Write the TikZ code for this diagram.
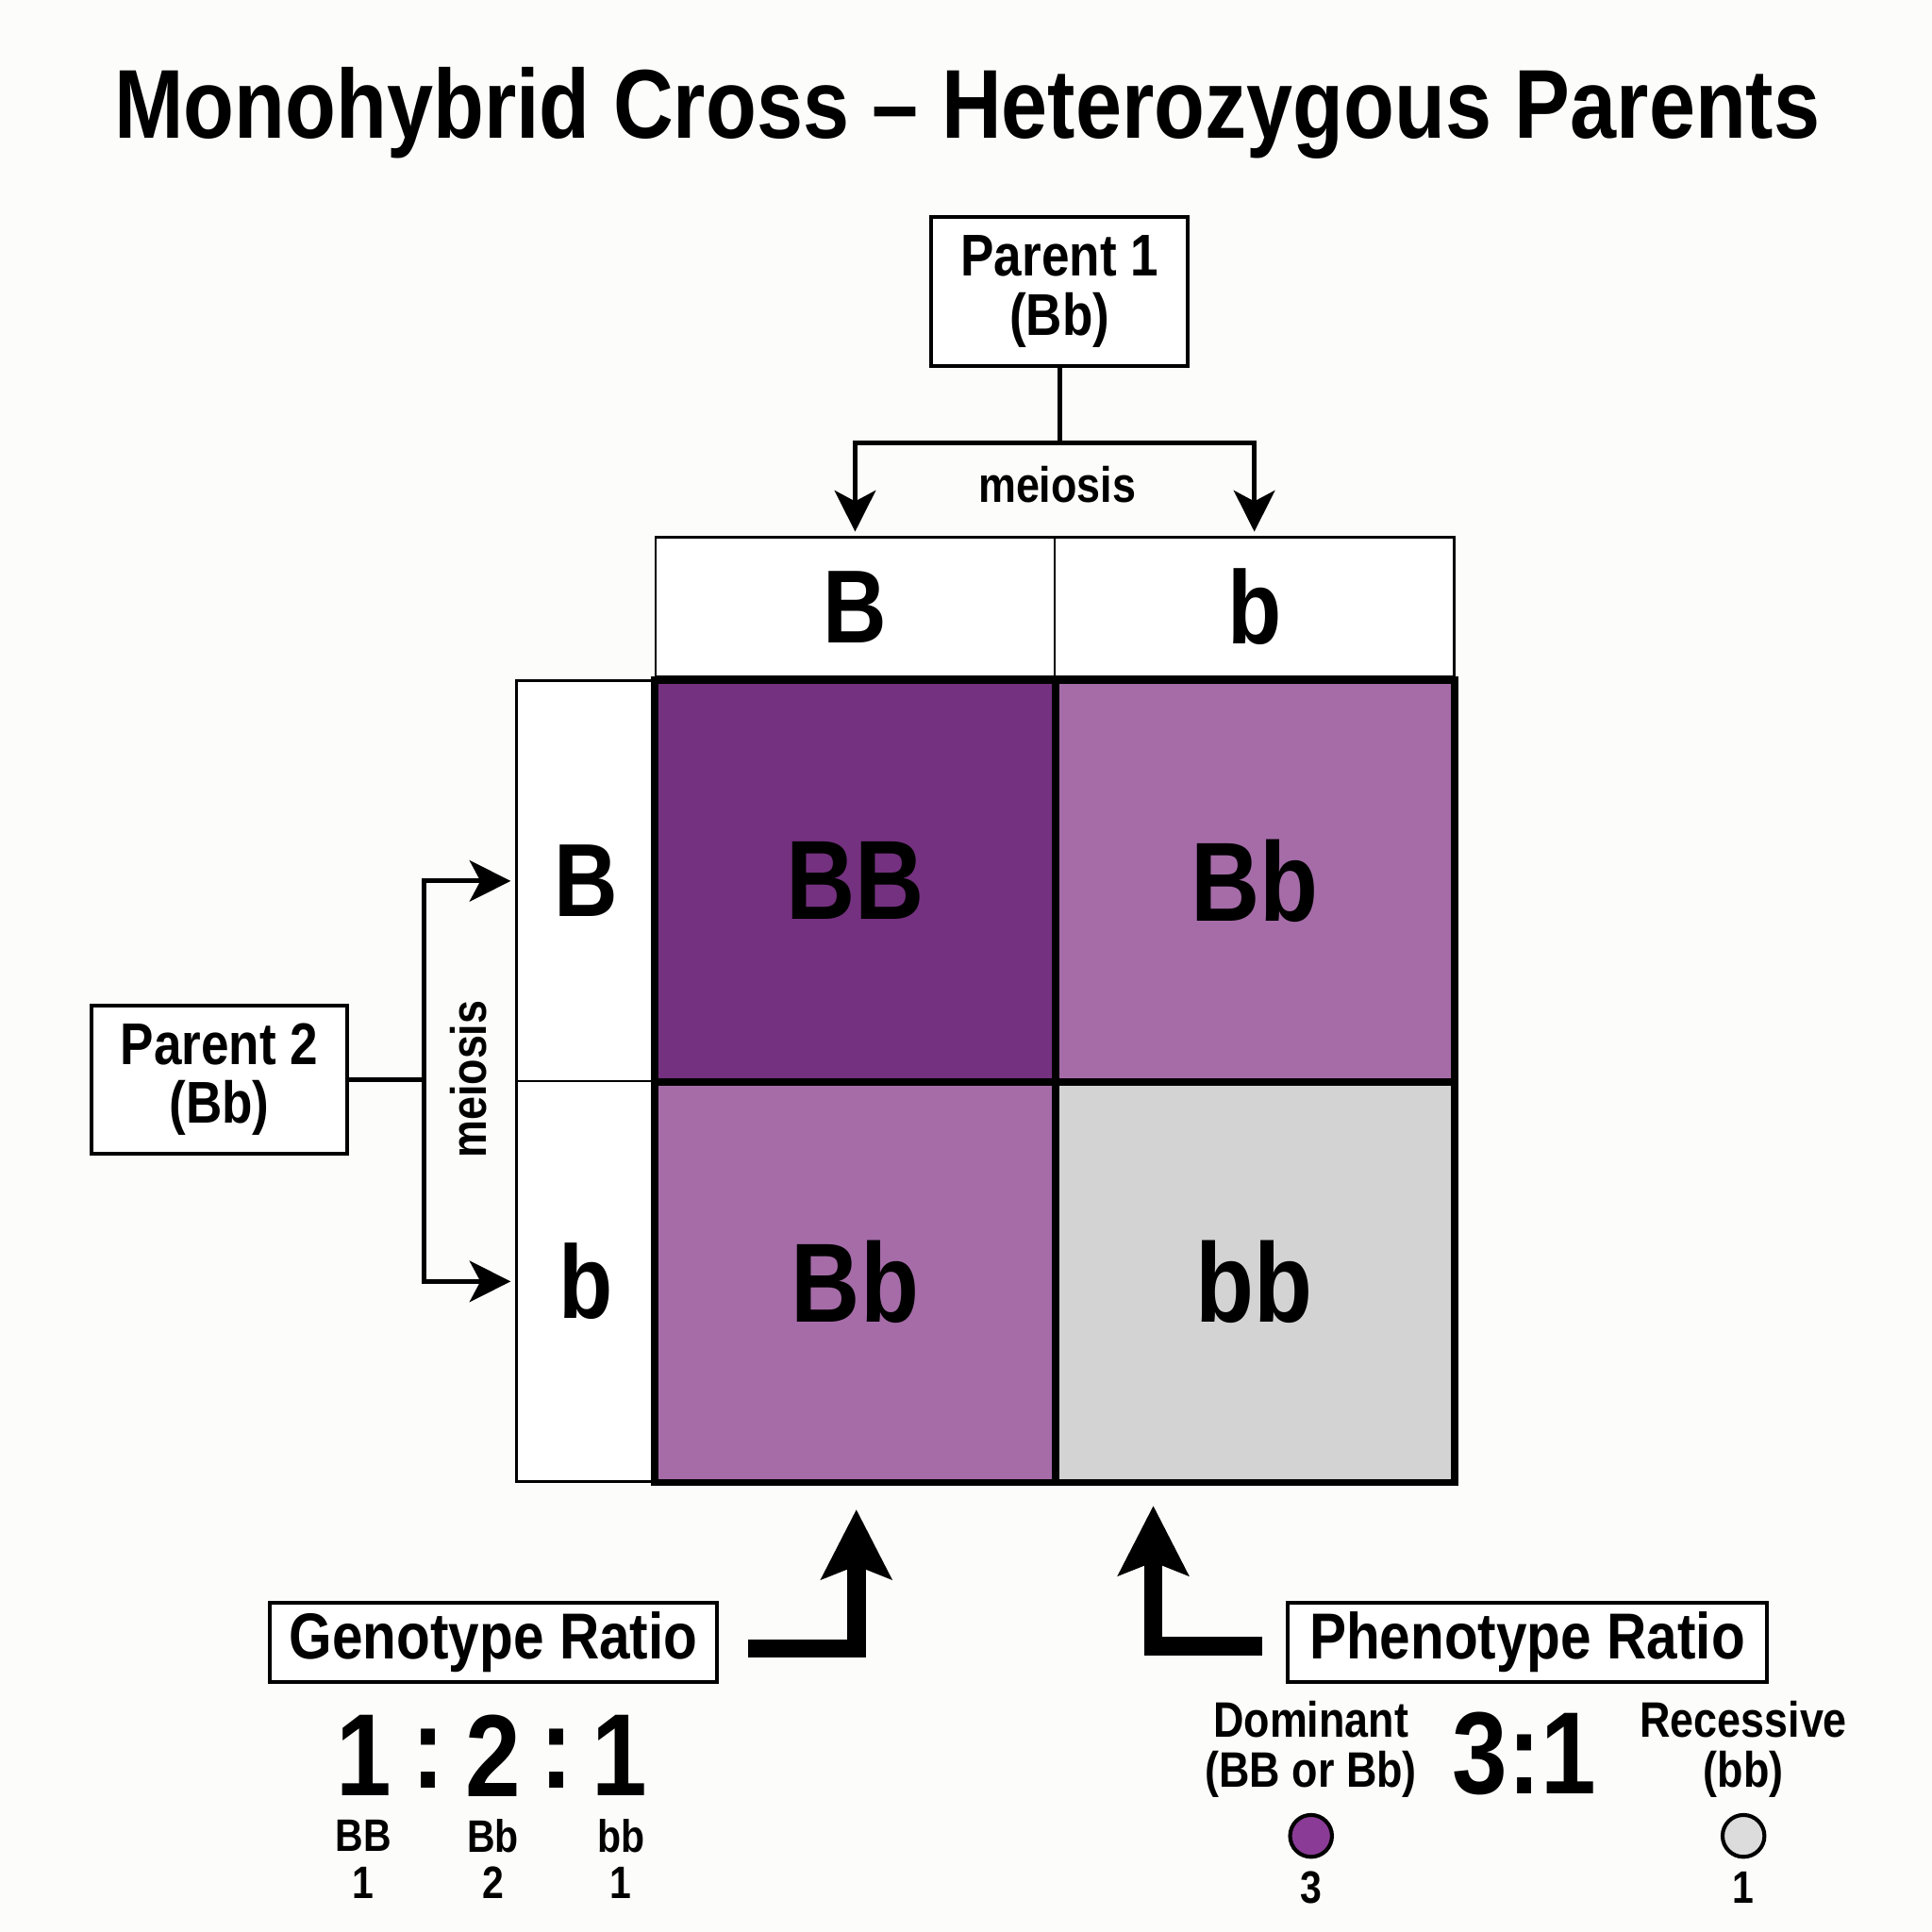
\documentclass[tikz,border=0pt]{standalone}
\usepackage{fontspec}
\setmainfont{Liberation Sans}[FakeStretch=0.85]
\usetikzlibrary{calc,positioning,arrows.meta}
\definecolor{bbdark}{HTML}{74317F}
\definecolor{bbmid}{HTML}{A56CA8}
\definecolor{bbgrey}{HTML}{D3D3D3}
\definecolor{domdot}{HTML}{8A3B96}
\definecolor{recdot}{HTML}{DCDCDC}
\definecolor{paper}{HTML}{FCFCFA}
\def\fs#1{\fontsize{#1}{#1}\selectfont\bfseries}
\tikzset{
	pbox/.style={draw, line width=0.3mm, fill=white, align=center, inner sep=0pt},
	hdr/.style={draw, line width=0.2mm, fill=white, inner sep=0pt, font=\fs{24}},
	cell/.style={minimum width=3.24cm, minimum height=3.25cm, inner sep=0pt, font=\fs{26}},
	meio/.style={line width=0.4mm, -{Stealth[length=9.5pt,width=9.5pt,inset=2.5pt]}},
	bigarr/.style={line width=4.3pt, -{Stealth[length=16pt,width=16pt,inset=3pt]}},
	dot/.style={circle, draw, line width=0.9pt, minimum size=0.34cm, inner sep=0pt}
}

\begin{document}
\begin{tikzpicture}
			%%%%% START %%%%%
			
			\fill[paper] (0, 0) rectangle (15.68, -15.68);
			\useasboundingbox (0, 0) rectangle (15.68, -15.68);
			
			\node[font=\fs{22.6}] (title) at (7.85, -0.92) {Monohybrid Cross -- Heterozygous Parents};
			
			\node[pbox, minimum width=2.08cm, minimum height=1.21cm, font=\fs{13.6}] (P1) at (8.60, -2.365) {Parent 1\\(Bb)};
			\node[pbox, minimum width=2.08cm, minimum height=1.20cm, font=\fs{13.6}] (P2) at (1.78, -8.76) {Parent 2\\(Bb)};
			
			\node[hdr, minimum width=3.24cm, minimum height=1.13cm] (hB) at (6.94, -4.925) {B};
			\node[hdr, minimum width=3.24cm, minimum height=1.13cm] (hb) at (10.18, -4.925) {b};
			\node[hdr, minimum width=1.13cm, minimum height=3.25cm] (vB) at (4.755, -7.15) {B};
			\node[hdr, minimum width=1.13cm, minimum height=3.25cm] (vb) at (4.755, -10.40) {b};
			
			\node[cell, fill=bbdark] (cBB) at (6.94, -7.15) {BB};
			\node[cell, fill=bbmid] (cBb) at (10.18, -7.15) {Bb};
			\node[cell, fill=bbmid] (cbB) at (6.94, -10.40) {Bb};
			\node[cell, fill=bbgrey] (cbb) at (10.18, -10.40) {bb};
			
			\draw[line width=1.7pt] (cBB.north west) rectangle (cbb.south east);
			\draw[line width=1.7pt] (cBB.north east) -- (cbB.south east);
			\draw[line width=1.7pt] (cBB.south west) -- (cBb.south east);
			
			% parent 1 -> gametes
			\draw[line width=0.4mm] (P1.south) -- ++(0, -0.61) coordinate (s1);
			\draw[meio] (s1) -| ([yshift=1pt]hB.north);
			\draw[meio] (s1) -| ([yshift=1pt]hb.north);
			\node[font=\fs{11.5}] (m1) at (8.58, -3.93) {meiosis};
			
			% parent 2 -> gametes
			\draw[line width=0.4mm] (P2.east) -- (3.44, -8.76) coordinate (s2);
			\draw[meio] (s2) |- ([xshift=-1pt]vB.west);
			\draw[meio] (s2) |- ([xshift=-1pt]vb.west);
			\node[font=\fs{11.5}, rotate=90] (m2) at (3.80, -8.76) {meiosis};
			
			% ratios
			\node[pbox, minimum width=3.63cm, minimum height=0.64cm, font=\fs{15}] (G) at (4.005, -13.33) {Genotype Ratio};
			\node[pbox, minimum width=3.89cm, minimum height=0.64cm, font=\fs{15}] (Ph) at (12.395, -13.33) {Phenotype Ratio};
			
			\coordinate (gtip) at (6.95, -12.25);
			\coordinate (ptip) at (9.36, -12.22);
			\draw[bigarr] ([xshift=0.24cm, yshift=-0.05cm]G.east) -| (gtip);
			\draw[bigarr] ([xshift=-0.19cm, yshift=-0.03cm]Ph.west) -| (ptip);
			
			\node[font=\fs{27}] (g1) at (2.95, -14.25) {1};
			\node[font=\fs{27}] (gc1) at (3.48, -14.27) {:};
			\node[font=\fs{27}] (g2) at (4.00, -14.25) {2};
			\node[font=\fs{27}] (gc2) at (4.52, -14.27) {:};
			\node[font=\fs{27}] (g3) at (5.03, -14.25) {1};
			
			\node[font=\fs{10.5}] (tBB) at (2.95, -14.90) {BB};
			\node[font=\fs{10.5}] (tBb) at (4.00, -14.90) {Bb};
			\node[font=\fs{10.5}] (tbb) at (5.04, -14.90) {bb};
			\node[font=\fs{10.5}] (nBB) at (2.95, -15.28) {1};
			\node[font=\fs{10.5}] (nBb) at (4.00, -15.28) {2};
			\node[font=\fs{10.5}] (nbb) at (5.04, -15.28) {1};
			
			\node[font=\fs{11.5}, align=center] (dom) at (10.64, -14.20) {Dominant\\(BB or Bb)};
			\node[font=\fs{27}] (r31) at (12.37, -14.23) {3:1};
			\node[font=\fs{11.5}, align=center] (rec) at (14.15, -14.20) {Recessive\\(bb)};
			
			\node[dot, fill=domdot] (dDom) at (10.64, -14.90) {};
			\node[dot, fill=recdot] (dRec) at (14.15, -14.90) {};
			\node[font=\fs{10.5}] (nDom) at (10.64, -15.32) {3};
			\node[font=\fs{10.5}] (nRec) at (14.15, -15.32) {1};
			
			%%%%% END %%%%%
		\end{tikzpicture}
\end{document}
